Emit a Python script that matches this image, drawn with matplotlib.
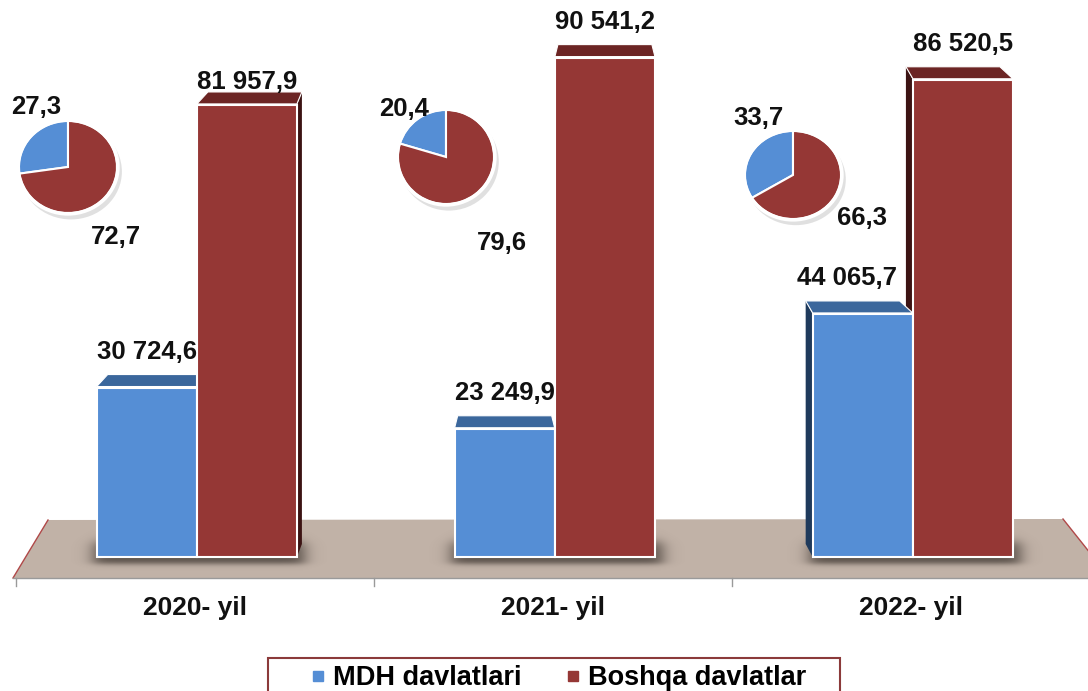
import numpy as np
import matplotlib
matplotlib.use("Agg")
import matplotlib.pyplot as plt
from matplotlib.patches import Polygon, Rectangle, Ellipse, Circle
from matplotlib.lines import Line2D

plt.rcParams['font.family'] = ['Liberation Sans', 'DejaVu Sans']

# data
years = ['2020- yil', '2021- yil', '2022- yil']
mdh = [30724.6, 23249.9, 44065.7]           # MDH davlatlari
boshqa = [81957.9, 90541.2, 86520.5]        # Boshqa davlatlar
mdh_share = [27.3, 20.4, 33.7]
boshqa_share = [72.7, 79.6, 66.3]
series_names = ['MDH davlatlari', 'Boshqa davlatlar']

blue = '#558ed5'
red = '#953735'
blue_top = '#3b679c'
red_top = '#6c2524'
blue_side = '#1f3a5c'
red_side = '#3c1313'
floor_col = '#c1b2a7'

W, H = 1088, 691
X0, DXPX = 195, 358          # pixel of first group, pixels per group
Y0, KY = 557, 181.3          # pixel of zero, value units per pixel


def px2x(px):
    return (px - X0) / DXPX


def px2y(py):
    return (Y0 - py) * KY


def fmt(v):
    return f"{v:,.1f}".replace(',', ' ').replace('.', ',')


fig = plt.figure(figsize=(W / 100, H / 100), dpi=100)
ax = fig.add_axes([0, 0, 1, 1])
ax.axis('off')

# floor
floor = Polygon([(px2x(48), px2y(520)), (px2x(1063), px2y(519)),
                 (px2x(1110), px2y(578)), (px2x(13), px2y(578))],
                closed=True, facecolor=floor_col, edgecolor='none', zorder=1)
ax.add_patch(floor)
ax.plot([px2x(13), px2x(48)], [px2y(578), px2y(520)], color='#b04848', lw=1, zorder=1.1)
ax.plot([px2x(1063), px2x(1110)], [px2y(519), px2y(578)], color='#b04848', lw=1, zorder=1.1)
ax.plot([px2x(13), px2x(W)], [px2y(578), px2y(578)], color='#9a9a9a', lw=1, zorder=1.2)
for b in np.arange(len(years) + 1) - 0.5:
    ax.plot([b, b], [px2y(578), px2y(586)], color='#9a9a9a', lw=1, zorder=1.2)

x = np.arange(len(years))
width = 100 / DXPX
off_b, off_r = -0.135, 0.145

# soft shadows on the floor under each pair of bars
sx_px = np.linspace(-150, 160, 320)
sy_px = np.linspace(520, 578, 60)
sx = 0.5 * (np.tanh((sx_px + 102) / 9) - np.tanh((sx_px - 110) / 9))
sy = 0.5 * (np.tanh((sy_px - 542) / 6) - np.tanh((sy_px - 564) / 3))
alpha = np.outer(sy, sx) * 0.65
shadow = np.zeros((len(sy_px), len(sx_px), 4))
shadow[..., 0] = 0.16
shadow[..., 1] = 0.13
shadow[..., 2] = 0.11
shadow[..., 3] = alpha
for i in x:
    ax.imshow(shadow, extent=(i + sx_px[0] / DXPX, i + sx_px[-1] / DXPX,
                              px2y(sy_px[-1]), px2y(sy_px[0])),
              origin='upper', aspect='auto', zorder=1.5, interpolation='bilinear')

bars_b = ax.bar(x + off_b, mdh, width, color=blue, edgecolor='white', linewidth=1.5, zorder=3)
bars_r = ax.bar(x + off_r, boshqa, width, color=red, edgecolor='white', linewidth=1.5, zorder=3)

# 3d tops and sides
lean = [8, 0, -10]
depth = 13 * KY
for bars, top_c, side_c in [(bars_b, blue_top, blue_side), (bars_r, red_top, red_side)]:
    for i, bar in enumerate(bars):
        xl = bar.get_x()
        xr = xl + bar.get_width()
        v = bar.get_height()
        ln = lean[i] / DXPX
        ins = 3 / DXPX
        top = Polygon([(xl, v + KY), (xr, v + KY), (xr + ln - ins, v + depth),
                       (xl + ln + ins, v + depth)], closed=True,
                      facecolor=top_c, edgecolor='white', lw=0.8, zorder=2.5)
        ax.add_patch(top)
        if lean[i] > 0:
            side = Polygon([(xr, 0), (xr, v), (xr + ln - ins, v + depth), (xr + ln - ins, depth)],
                           closed=True, facecolor=side_c, edgecolor='none', zorder=2)
            ax.add_patch(side)
        elif lean[i] < 0:
            side = Polygon([(xl, 0), (xl, v), (xl + ln + ins, v + depth), (xl + ln + ins, depth)],
                           closed=True, facecolor=side_c, edgecolor='none', zorder=2)
            ax.add_patch(side)

# value labels
lab_dx = [[0, 0, -11], [0, 0, 0]]
lab_dy = [[17, 17, 17], [8, 17, 17]]
for s, bars in enumerate((bars_b, bars_r)):
    for i, bar in enumerate(bars):
        v = bar.get_height()
        ax.annotate(fmt(v), (bar.get_x() + bar.get_width() / 2, v),
                    xytext=(lab_dx[s][i], lab_dy[s][i]),
                    textcoords='offset points', ha='center', va='bottom',
                    fontsize=18.5, fontweight='bold', color='#111111', zorder=5)

# category labels
for i, yr in enumerate(years):
    ax.text(i, px2y(608), yr, ha='center', va='center', fontsize=19,
            fontweight='bold', color='#111111')

ax.set_xlim(px2x(0), px2x(W))
ax.set_ylim(px2y(H), px2y(0))

# pie insets (pixel centre, radii) and their label positions
pie_c = [(68, 167), (446, 157), (793, 175)]
pie_r = [(49, 46), (48, 47), (48, 44)]
lab_b = [(36, 107), (404, 109), (758, 118)]
lab_r = [(116, 237), (502, 243), (862, 218)]
for i in range(len(years)):
    cx, cy = pie_c[i]
    rx, ry = pie_r[i]
    pa = fig.add_axes([(cx - 1.2 * rx) / W, 1 - (cy + 1.2 * ry) / H, 2.4 * rx / W, 2.4 * ry / H])
    pa.add_patch(Ellipse((0.06, -0.1), 2.08, 2.08, facecolor='#9a9a9a', alpha=0.3, lw=0))
    pa.pie([mdh_share[i], boshqa_share[i]], colors=[blue, red], startangle=90,
           counterclock=True, wedgeprops=dict(edgecolor='white', linewidth=1.5))
    pa.add_patch(Circle((0, 0), 1.02, fill=False, edgecolor='white', lw=2.5))
    pa.set_aspect('auto')
    pa.set_xlim(-1.2, 1.2)
    pa.set_ylim(-1.2, 1.2)
    pa.axis('off')
    fig.text(lab_b[i][0] / W, 1 - lab_b[i][1] / H, f"{mdh_share[i]:.1f}".replace('.', ','),
             ha='center', va='center', fontsize=18.5, fontweight='bold', color='#111111')
    fig.text(lab_r[i][0] / W, 1 - lab_r[i][1] / H, f"{boshqa_share[i]:.1f}".replace('.', ','),
             ha='center', va='center', fontsize=18.5, fontweight='bold', color='#111111')

# legend
fig.patches.append(Rectangle((268 / W, -10 / H), (840 - 268) / W, (691 + 10 - 658) / H,
                             transform=fig.transFigure, fill=False,
                             edgecolor='#8b3a3a', lw=1.5))
handles = [Line2D([], [], marker='s', ls='', color=blue, markersize=7),
           Line2D([], [], marker='s', ls='', color=red, markersize=7)]
fig.legend(handles, series_names, loc='center left', bbox_to_anchor=(295 / W, 1 - 678 / H),
           ncol=2, frameon=False, borderpad=0, handlelength=0.7, handletextpad=0.2,
           columnspacing=1.55, prop=dict(weight='bold', size=19.5))

fig.savefig("out.png", dpi=100)
